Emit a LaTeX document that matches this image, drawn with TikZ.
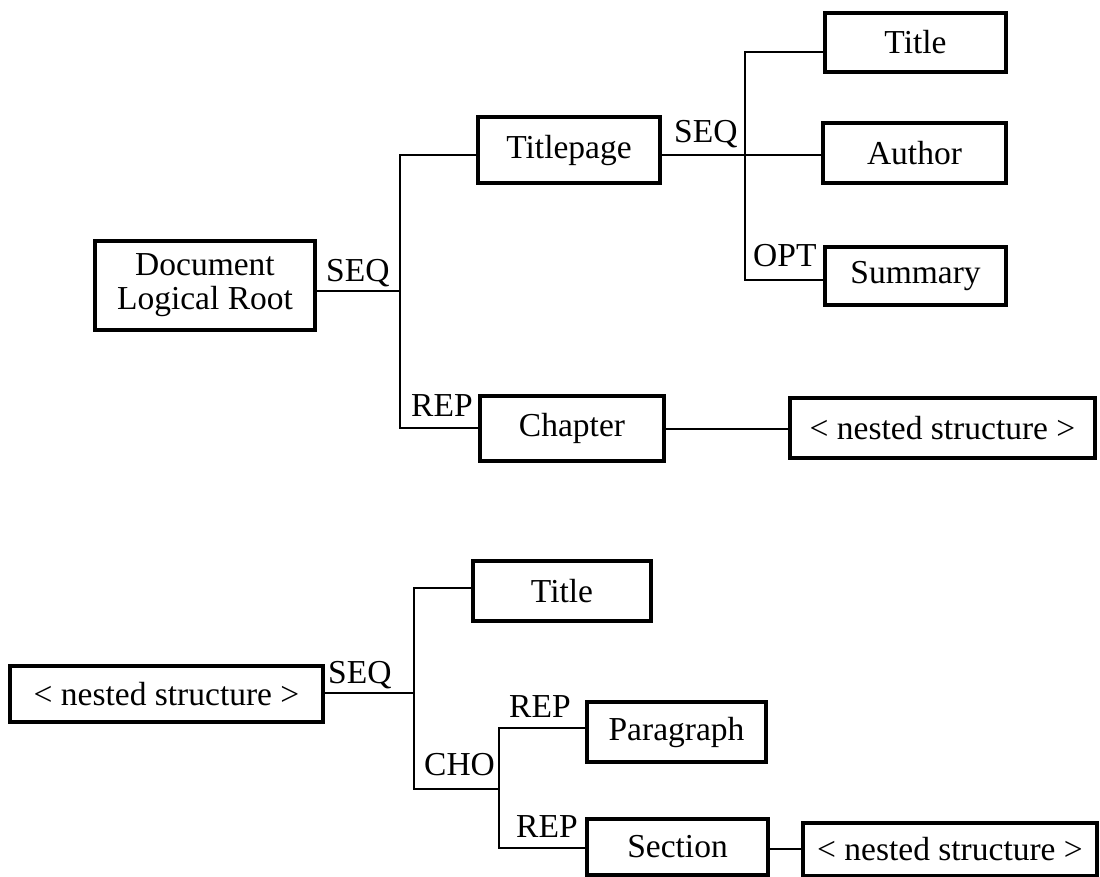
\documentclass[tikz,border=0pt]{standalone}
\usepackage{fontspec}
\setmainfont{Liberation Serif}
\begin{document}
\begin{tikzpicture}[x=1pt,y=-1pt,
  box/.style={draw,line width=4.6pt,inner sep=0pt,align=center,
    font=\fontsize{33.5}{30}\selectfont},
  lbl/.style={inner sep=0pt,anchor=base west,font=\fontsize{33.5}{30}\selectfont},
  conn/.style={line width=2.8pt}]
\useasboundingbox (0,0) rectangle (1100,877);

% ---- upper tree: document logical root ----
\node[box,minimum width=220pt,minimum height=89pt,font=\fontsize{33.5}{34}\selectfont] (root) at (205,285.5) {Document\\Logical Root};
\node[box,minimum width=182pt,minimum height=66pt] (tpage) at (569,150) {Titlepage};
\node[box,minimum width=181pt,minimum height=59pt] (ttl) at (915.5,42.5) {Title};
\node[box,minimum width=183pt,minimum height=60pt] (auth) at (914.5,153) {Author};
\node[box,minimum width=181pt,minimum height=58pt] (summ) at (915.5,276) {Summary};
\node[box,minimum width=184pt,minimum height=65pt] (chap) at (572,428.5) {Chapter};
\node[box,minimum width=305pt,minimum height=60pt] (nestA) at (942.5,428) {< nested structure >};

\coordinate (r0) at (400,291);
\coordinate (rt) at (400,155);
\coordinate (rb) at (400,428);
\coordinate (tj) at (745,155);
\coordinate (tt) at (745,52);
\coordinate (tb) at (745,280);

\draw[conn] (root.east|-r0) -- (r0);
\draw[conn] (tpage.west|-rt) -- (rt) -- (rb) -- (chap.west|-rb);
\draw[conn] (tpage.east|-tj) -- (auth.west|-tj);
\draw[conn] (ttl.west|-tt) -- (tt) -- (tb) -- (summ.west|-tb);
\draw[conn] (chap.east|-0,429) -- (nestA.west|-0,429);

\node[lbl] (seqA) at (326,282) {SEQ};
\node[lbl] (seqB) at (674,143) {SEQ};
\node[lbl] (optA) at (753,267) {OPT};
\node[lbl] (repA) at (411,416) {REP};

% ---- lower tree: expansion of a nested structure ----
\node[box,minimum width=313pt,minimum height=56pt] (nestB) at (166.5,694) {< nested structure >};
\node[box,minimum width=178pt,minimum height=60pt] (ttlB) at (562,591) {Title};
\node[box,minimum width=179pt,minimum height=60pt] (para) at (676.5,732) {Paragraph};
\node[box,minimum width=181pt,minimum height=56pt] (sect) at (677.5,847) {Section};
\node[box,minimum width=294pt,minimum height=53pt] (nestC) at (950,849.5) {< nested structure >};

\coordinate (s0) at (414,693);
\coordinate (st) at (414,588);
\coordinate (sb) at (414,789);
\coordinate (ct) at (499,728);
\coordinate (cm) at (499,789);
\coordinate (cb) at (499,848);

\draw[conn] (nestB.east|-s0) -- (s0);
\draw[conn] (ttlB.west|-st) -- (st) -- (sb) -- (cm);
\draw[conn] (para.west|-ct) -- (ct) -- (cb) -- (sect.west|-cb);
\draw[conn] (sect.east|-0,849) -- (nestC.west|-0,849);

\node[lbl] (seqC) at (328,683) {SEQ};
\node[lbl] (cho) at (424,775) {CHO};
\node[lbl] (repB) at (509,717) {REP};
\node[lbl] (repC) at (516,837) {REP};
\end{tikzpicture}
\end{document}
